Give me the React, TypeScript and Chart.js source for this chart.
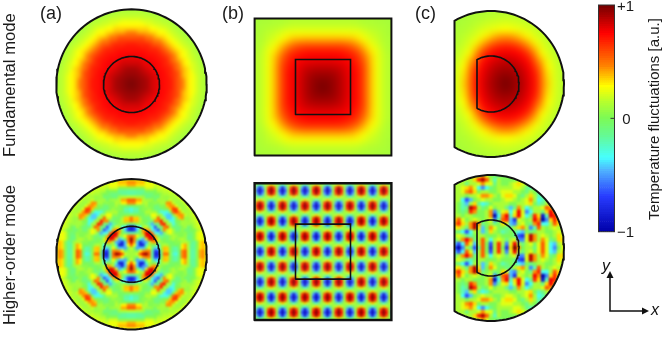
import React, { useEffect, useRef } from "react";
import { Chart, registerables } from "chart.js";

Chart.register(...registerables);

const W = 664;
const H = 339;

// ---- values, in hundredths of the colour scale ----
const colorStops = [
  [100, 112, 0, 0], [75, 255, 0, 0], [46, 255, 130, 0], [28, 255, 255, 0],
  [16, 190, 255, 40], [0, 125, 250, 85], [-16, 100, 250, 150], [-35, 70, 255, 255],
  [-46, 80, 180, 255], [-69, 40, 60, 255], [-100, 0, 0, 170],
];

// fundamental mode, disk: value by radius, every 3 units
const fundDiskRadial = [98, 97, 96, 94, 92, 90, 87, 84, 81, 78, 76, 74, 72, 70, 67, 62, 55, 47, 39, 33, 28, 23, 19, 16, 13, 10];

// fundamental mode, square: one quadrant, every 6 units
const fundSquareQuadrant = [
  [98, 96, 92, 87, 81, 76, 70, 56, 38, 26, 18, 14],
  [96, 95, 92, 87, 81, 76, 70, 56, 38, 26, 18, 14],
  [92, 92, 90, 86, 80, 76, 70, 56, 38, 26, 18, 14],
  [87, 87, 86, 84, 79, 75, 69, 56, 38, 26, 18, 14],
  [81, 81, 80, 79, 77, 73, 66, 54, 37, 26, 18, 14],
  [76, 76, 76, 75, 73, 70, 62, 49, 36, 25, 18, 14],
  [70, 70, 70, 69, 66, 62, 54, 42, 31, 25, 17, 13],
  [56, 56, 56, 56, 54, 49, 42, 34, 26, 21, 15, 12],
  [38, 38, 38, 38, 37, 36, 31, 26, 21, 18, 14, 12],
  [26, 26, 26, 26, 26, 25, 25, 21, 18, 16, 13, 11],
  [18, 18, 18, 18, 18, 18, 17, 15, 14, 13, 12, 11],
  [14, 14, 14, 14, 14, 14, 13, 12, 12, 11, 11, 10],
];

// fundamental mode, truncated disk: rows by |y|, columns by |x - peak|, every 6 units
const fundTruncQuadrant = [
  [98, 95, 91, 86, 79, 70, 50, 35, 23, 17, 13],
  [96, 94, 90, 85, 78, 70, 49, 33, 22, 17, 13],
  [92, 91, 88, 83, 77, 67, 47, 31, 22, 17, 13],
  [89, 87, 85, 80, 74, 60, 43, 28, 21, 16, 13],
  [84, 83, 80, 76, 69, 52, 37, 25, 19, 15, 12],
  [78, 77, 75, 70, 60, 43, 29, 22, 17, 14, 12],
  [71, 70, 66, 58, 46, 35, 24, 19, 16, 13, 11],
  [57, 55, 50, 43, 35, 26, 21, 17, 14, 12, 11],
  [42, 41, 37, 31, 26, 21, 18, 15, 13, 12, 10],
  [28, 27, 25, 23, 21, 18, 15, 13, 12, 11, 10],
  [22, 21, 20, 19, 17, 15, 13, 12, 11, 10, 10],
  [17, 17, 16, 15, 14, 13, 12, 11, 10, 10, 9],
  [14, 14, 13, 13, 12, 12, 11, 10, 10, 9, 9],
];

// higher-order mode, disk: rows by radius (every 3), columns by angle from the axis (every 7.5 deg, 0..45)
const higherDiskPolar = [
  [8, 8, 8, 8, 8, 8, 8],
  [10, 10, 10, 10, 8, 8, 6],
  [20, 17, 10, 5, -5, -12, -15],
  [55, 48, 28, 5, -25, -42, -50],
  [85, 74, 43, 0, -43, -74, -85],
  [95, 82, 48, 0, -48, -82, -95],
  [55, 47, 27, 0, -27, -47, -55],
  [-20, -17, -10, 0, 10, 17, 20],
  [-85, -74, -42, 0, 40, 70, 80],
  [-80, -68, -35, 5, 45, 82, 95],
  [-10, -5, 7, 12, 20, 38, 45],
  [50, 37, 14, 5, -8, -31, -45],
  [50, 35, 10, 0, -18, -48, -65],
  [5, 2, -3, -6, -8, -10, -10],
  [-25, -17, -4, 5, 18, 45, 60],
  [-32, -20, -1, 12, 26, 55, 70],
  [-5, -2, 3, 8, 10, 10, 10],
  [45, 30, 10, 2, -10, -30, -42],
  [55, 40, 14, 2, -8, -30, -42],
  [15, 12, 8, 5, 3, 1, 0],
  [-18, -16, -10, -5, 10, 36, 52],
  [-18, -16, -10, -8, 9, 44, 62],
  [5, 4, 2, 0, 7, 18, 22],
  [40, 32, 20, 12, 12, 10, 8],
  [45, 38, 26, 18, 16, 12, 10],
  [25, 24, 22, 20, 20, 20, 20],
];

// higher-order mode, square: the repeating tile of the checkerboard
const higherSquareTile = [
  [8, -8, -25, -8, 8, 16, 35, 16],
  [8, -50, -85, -50, 8, 60, 90, 60],
  [8, -66, -95, -66, 8, 75, 98, 75],
  [8, -50, -85, -50, 8, 60, 90, 60],
  [8, -8, -25, -8, 8, 16, 35, 16],
  [8, 16, 35, 16, 8, -8, -25, -8],
  [8, 60, 90, 60, 8, -50, -85, -50],
  [8, 75, 98, 75, 8, -66, -95, -66],
  [8, 60, 90, 60, 8, -50, -85, -50],
  [8, 16, 35, 16, 8, -8, -25, -8],
];

// higher-order mode, truncated disk: upper half, every 4 units.
// 0-9 = +0.0..+0.9, X = +1, a-j = -0.1..-1.0
const higherTruncRows = [
  "1111112" + "4200a00" + "0111111" + "1111111",
  "1111136" + "851b100" + "0011111" + "1111111",
  "111a112" + "422a100" + "123210a" + "0011111",
  "112342c" + "eca0111" + "1221aba" + "0011111",
  "1124530" + "1100122" + "2110a10" + "a011111",
  "1110112" + "4431023" + "320a131" + "ba01111",
  "11cfd01" + "2110012" + "2101241" + "cb01111",
  "10bd13a" + "cb01111" + "0011230" + "ba12111",
  "10ba861" + "a02011a" + "da41ca1" + "1254211",
  "10a0640" + "014ea23" + "c272ec1" + "1a37421",
  "1101100" + "014ic47" + "b372ca6" + "3hb7621",
  "3520121" + "012ea56" + "dg21017" + "4je3631",
  "4631484" + "a01a032" + "de120a4" + "6cc1531",
  "231a483" + "d04200a" + "a1341eb" + "5101211",
  "0acfc11" + "da310ba" + "0acd0a0" + "1100121",
  "121ab01" + "1000100" + "0afg284" + "1210132",
  "a1474a1" + "51c121a" + "12ee284" + "142a033",
  "dfc52d1" + "50f161e" + "271a120" + "252cd12",
  "fie1afa" + "50g160g" + "3X4011a" + "252ce02",
];

const colorbarTicks = [1, 0, -1];
const colorbarTickLabels = ["+1", "0", "\u22121"];
const panelLetters = ["(a)", "(b)", "(c)"];
const rowTitles = ["Fundamental mode", "Higher-order mode"];
const colorbarTitle = "Temperature fluctuations [a.u.]";

// ---- helpers ----
function colorOf(v: number) {
  const x = Math.max(-100, Math.min(100, v));
  for (let i = 0; i < colorStops.length - 1; i++) {
    const a = colorStops[i], b = colorStops[i + 1];
    if (x <= a[0] && x >= b[0]) {
      const t = (a[0] - x) / (a[0] - b[0] || 1);
      return `rgb(${Math.round(a[1] + (b[1] - a[1]) * t)},${Math.round(a[2] + (b[2] - a[2]) * t)},${Math.round(a[3] + (b[3] - a[3]) * t)})`;
    }
  }
  return "rgb(0,0,170)";
}
const clampIdx = (i: number, n: number) => Math.max(0, Math.min(n - 1, i));

// the cells are smoothed when drawn, which lowers the peaks; the level step makes up for it
const truncLevelStep = 11;
function charValue(c: string) {
  if (c === "X") return 100;
  if (c >= "0" && c <= "9") return +c * truncLevelStep;
  return -(c.charCodeAt(0) - 96) * truncLevelStep;
}

function circlePts(r: number) {
  const p = [];
  for (let d = 0; d <= 360; d += 3) p.push({ x: r * Math.cos((d * Math.PI) / 180), y: r * Math.sin((d * Math.PI) / 180) });
  return p;
}
function dPts(r: number) {
  const p = [];
  for (let d = -120; d <= 120; d += 3) p.push({ x: r * Math.cos((d * Math.PI) / 180), y: r * Math.sin((d * Math.PI) / 180) });
  p.push(p[0]);
  return p;
}
function squarePts(h: number) {
  return [{ x: -h, y: -h }, { x: h, y: -h }, { x: h, y: h }, { x: -h, y: h }, { x: -h, y: -h }];
}

type Cell = { x: number; y: number; v: number };
function gridCells(lo: number, hiX: number, hiY: number, stepX: number, stepY: number, fn: (dx: number, dy: number, i: number, j: number) => number, x0: number, y0: number) {
  const out: Cell[] = [];
  for (let j = lo; j < hiY; j++) {
    for (let i = lo; i < hiX; i++) {
      const dx = x0 + i * stepX, dy = y0 + j * stepY;
      out.push({ x: dx, y: -dy, v: fn(dx, dy, i, j) });
    }
  }
  return out;
}

function heat(xAxisID: string, yAxisID: string, cells: Cell[], side: number, blur: number, clipPts: { x: number; y: number }[]) {
  return {
    type: "scatter" as const,
    xAxisID, yAxisID,
    data: cells,
    order: 5,
    showLine: false,
    pointStyle: "rect",
    pointRadius: side * Math.SQRT1_2,
    pointBorderWidth: 0,
    pointBackgroundColor: cells.map((c) => colorOf(c.v)),
    heatBlur: blur,
    clipPts,
  };
}
function outline(xAxisID: string, yAxisID: string, pts: { x: number; y: number }[], width: number) {
  return {
    type: "scatter" as const,
    xAxisID, yAxisID,
    data: pts,
    order: 1,
    showLine: true,
    tension: 0,
    pointRadius: 0,
    borderColor: "#111111",
    borderWidth: width,
    borderCapStyle: "round",
    borderJoinStyle: "miter",
    clip: false,
  };
}
const pxScale = (c: number, size: number) => ({ type: "linear" as const, display: false, bounds: "data", min: -c, max: size - c });
const pyScale = (c: number) => ({ type: "linear" as const, display: false, bounds: "data", min: c - H, max: c });

const CTR = {
  xA: 131.5, xB: 323, xC: 491,
  yAT: 84.5, yAB: 254.3, yBT: 87, yBB: 251.6, yCT: 84, yCB: 248,
};
const BAR = { left: 598.5, right: 614.5, top: 5, bottom: 231.7 };

function tracePath(ctx: any, xs: any, ys: any, pts: any[]) {
  ctx.beginPath();
  pts.forEach((p: any, i: number) => {
    const px = xs.getPixelForValue(p.x), py = ys.getPixelForValue(p.y);
    if (i) ctx.lineTo(px, py); else ctx.moveTo(px, py);
  });
  ctx.closePath();
}

const labelsPlugin = {
  id: "labels",
  beforeDatasetDraw(chart: any, args: any) {
    const ds = chart.data.datasets[args.index];
    if (!ds.clipPts || ds.heatBlur) return;
    const ctx = chart.ctx;
    ctx.save();
    tracePath(ctx, chart.scales[ds.xAxisID], chart.scales[ds.yAxisID], ds.clipPts);
    ctx.clip();
  },
  afterDatasetDraw(chart: any, args: any) {
    const ds = chart.data.datasets[args.index];
    if (!ds.clipPts) return;
    const ctx = chart.ctx;
    if (!ds.heatBlur) { ctx.restore(); return; }
    // smooth the cells that were just drawn, then keep them only inside the outline
    const xs = chart.scales[ds.xAxisID], ys = chart.scales[ds.yAxisID];
    const xv = ds.data.map((c: Cell) => xs.getPixelForValue(c.x));
    const yv = ds.data.map((c: Cell) => ys.getPixelForValue(c.y));
    const pad = ds.pointRadius + 1;
    const x0 = Math.floor(Math.min(...xv) - pad), x1 = Math.ceil(Math.max(...xv) + pad);
    const y0 = Math.floor(Math.min(...yv) - pad), y1 = Math.ceil(Math.max(...yv) + pad);
    const tmp = document.createElement("canvas");
    tmp.width = W; tmp.height = H;
    const t = tmp.getContext("2d") as CanvasRenderingContext2D;
    t.filter = `blur(${ds.heatBlur}px)`;
    t.drawImage(chart.canvas, x0, y0, x1 - x0, y1 - y0, x0, y0, x1 - x0, y1 - y0);
    ctx.save();
    ctx.fillStyle = "#ffffff";
    ctx.fillRect(x0, y0, x1 - x0, y1 - y0);
    tracePath(ctx, xs, ys, ds.clipPts);
    ctx.clip();
    ctx.drawImage(tmp, 0, 0);
    ctx.restore();
  },
  afterDatasetsDraw(chart: any) {
    const ctx = chart.ctx;
    const cb = chart.scales.cb;
    ctx.save();
    ctx.fillStyle = "#1a1a1a";
    ctx.textBaseline = "middle";

    // colour bar frame and tick
    ctx.lineWidth = 1;
    ctx.strokeStyle = "#333333";
    ctx.strokeRect(BAR.left, BAR.top, BAR.right - BAR.left, BAR.bottom - BAR.top);
    const y0 = cb.getPixelForValue(0);
    ctx.beginPath(); ctx.moveTo(BAR.right - 4, y0); ctx.lineTo(BAR.right, y0); ctx.stroke();

    // colour bar ticks
    ctx.font = '15px "Liberation Sans"';
    ctx.textAlign = "center";
    colorbarTicks.forEach((t, i) => {
      const x = t === 0 ? 626.5 : 625.5;
      ctx.fillText(colorbarTickLabels[i], x, cb.getPixelForValue(t) + 1.5);
    });

    // panel letters
    ctx.font = '18px "Liberation Sans"';
    ctx.textAlign = "left";
    ctx.fillText(panelLetters[0], 40, 14);
    ctx.fillText(panelLetters[1], 222, 14);
    ctx.fillText(panelLetters[2], 415, 14);

    // rotated titles
    const rot = (text: string, x: number, y: number, font: string) => {
      ctx.save();
      ctx.translate(x, y);
      ctx.rotate(-Math.PI / 2);
      ctx.font = font;
      ctx.textAlign = "center";
      ctx.fillText(text, 0, 0);
      ctx.restore();
    };
    rot(rowTitles[0], 10, 85, '16.7px "Liberation Sans"');
    rot(rowTitles[1], 10, 255, '16.7px "Liberation Sans"');
    rot(colorbarTitle, 655, 119, '15px "Liberation Sans"');

    // axis arrows
    ctx.strokeStyle = "#111111";
    ctx.fillStyle = "#111111";
    ctx.lineWidth = 1.5;
    ctx.beginPath();
    ctx.moveTo(610, 275);
    ctx.lineTo(610, 311);
    ctx.lineTo(645, 311);
    ctx.stroke();
    ctx.beginPath(); ctx.moveTo(610, 271); ctx.lineTo(606.5, 278); ctx.lineTo(613.5, 278); ctx.closePath(); ctx.fill();
    ctx.beginPath(); ctx.moveTo(649, 311); ctx.lineTo(642, 307.5); ctx.lineTo(642, 314.5); ctx.closePath(); ctx.fill();
    ctx.font = 'italic 16px "Liberation Sans"';
    ctx.textAlign = "center";
    ctx.fillText("y", 606, 267);
    ctx.fillText("x", 655, 311);
    ctx.restore();
  },
};

export default function App() {
  const ref = useRef<HTMLCanvasElement | null>(null);
  useEffect(() => {
    if (!ref.current) return;

    const outerA = circlePts(75.2), innerA = circlePts(28);
    const outerB = squarePts(68.4), innerB = squarePts(27.5);
    const outerC = dPts(73), innerC = dPts(28);

    const fundDiskFine = gridCells(-20, 21, 21, 4, 4, (dx, dy) => {
      const r = Math.hypot(dx, dy);
      return fundDiskRadial[clampIdx(Math.round(r / 3), fundDiskRadial.length)];
    }, 0, 0);

    const fundSquare = gridCells(-13, 14, 14, 6, 6, (dx, dy) => {
      const i = clampIdx(Math.round(Math.abs(dx) / 6), 12);
      const j = clampIdx(Math.round(Math.abs(dy) / 6), 12);
      return fundSquareQuadrant[j][i];
    }, 0, 0);

    const peakC = 17; // peak of the truncated-disk mode, right of the disk centre
    const fundTrunc = gridCells(-14, 15, 15, 6, 6, (dx, dy) => {
      const i = clampIdx(Math.round(Math.abs(dx - peakC) / 6), 11);
      const j = clampIdx(Math.round(Math.abs(dy) / 6), 13);
      return fundTruncQuadrant[j][i];
    }, 15, 0);

    const higherDisk = gridCells(-27, 28, 28, 3, 3, (dx, dy) => {
      const r = Math.hypot(dx, dy);
      let deg = (Math.atan2(Math.abs(dy), Math.abs(dx)) * 180) / Math.PI;
      if (deg > 45) deg = 90 - deg;
      const j = clampIdx(Math.round(r / 3), higherDiskPolar.length);
      const i = clampIdx(Math.round(deg / 7.5), 7);
      return higherDiskPolar[j][i];
    }, 0, 0);

    const higherSquare = gridCells(-4, 53, 50, 2.8125, 3.04, (_dx, _dy, i, j) => {
      const ci = ((i % 8) + 8) % 8, rj = ((j % 10) + 10) % 10;
      return higherSquareTile[rj][ci];
    }, 254.6 - CTR.xB, 184.9 - CTR.yBB);

    const rowsN = higherTruncRows.length;
    const higherTrunc = gridCells(-1, 30, 38, 4, 4, (_dx, _dy, i, j) => {
      const col = clampIdx(i, 28);
      const row = j <= rowsN - 1 ? clampIdx(j, rowsN) : clampIdx(2 * (rowsN - 1) - j, rowsN);
      return charValue(higherTruncRows[row][col]);
    }, 455 - CTR.xC, 176 - CTR.yCB);

    const barCells: Cell[] = [];
    for (let v = 100; v >= -100; v -= 2) {
      for (let x = BAR.left; x <= BAR.right + 0.1; x += 2) {
        barCells.push({ x, y: v / 100, v });
      }
    }
    const barClip = [
      { x: BAR.left, y: 1 }, { x: BAR.right, y: 1 }, { x: BAR.right, y: -1 }, { x: BAR.left, y: -1 },
    ];

    const datasets: any[] = [
      outline("xA", "yAT", outerA, 2), outline("xA", "yAT", innerA, 1.6),
      outline("xB", "yBT", outerB, 2), outline("xB", "yBT", innerB, 1.6),
      outline("xC", "yCT", outerC, 2), outline("xC", "yCT", innerC, 1.6),
      outline("xA", "yAB", outerA, 2), outline("xA", "yAB", innerA, 1.6),
      outline("xB", "yBB", outerB, 2.4), outline("xB", "yBB", innerB, 1.6),
      outline("xC", "yCB", outerC, 2), outline("xC", "yCB", innerC, 1.6),
      heat("xA", "yAT", fundDiskFine, 4.6, 2.2, outerA),
      heat("xB", "yBT", fundSquare, 6.6, 3, outerB),
      heat("xC", "yCT", fundTrunc, 6.6, 3, outerC),
      heat("xA", "yAB", higherDisk, 3.5, 1.1, outerA),
      heat("xB", "yBB", higherSquare, 3.3, 0.9, outerB),
      heat("xC", "yCB", higherTrunc, 4.5, 1.2, outerC),
      heat("xPx", "cb", barCells, 3, 0, barClip),
    ];

    const cbSlope = 2 / (BAR.bottom - BAR.top);
    const chart = new Chart(ref.current, {
      type: "scatter",
      data: { datasets },
      plugins: [labelsPlugin as any],
      options: {
        animation: false,
        responsive: false,
        events: [],
        layout: { padding: 0, autoPadding: false },
        plugins: { legend: { display: false }, tooltip: { enabled: false } },
        scales: {
          xA: pxScale(CTR.xA, W), xB: pxScale(CTR.xB, W), xC: pxScale(CTR.xC, W), xPx: pxScale(0, W),
          yAT: pyScale(CTR.yAT), yAB: pyScale(CTR.yAB), yBT: pyScale(CTR.yBT),
          yBB: pyScale(CTR.yBB), yCT: pyScale(CTR.yCT), yCB: pyScale(CTR.yCB),
          cb: {
            type: "linear", display: false, bounds: "data",
            max: 1 + BAR.top * cbSlope,
            min: -1 - (H - BAR.bottom) * cbSlope,
          },
        } as any,
      },
    });
    return () => chart.destroy();
  }, []);
  return (
    <canvas
      ref={ref}
      width={W}
      height={H}
      style={{ position: "absolute", left: 0, top: 0, width: W, height: H, background: "#ffffff" }}
    />
  );
}
